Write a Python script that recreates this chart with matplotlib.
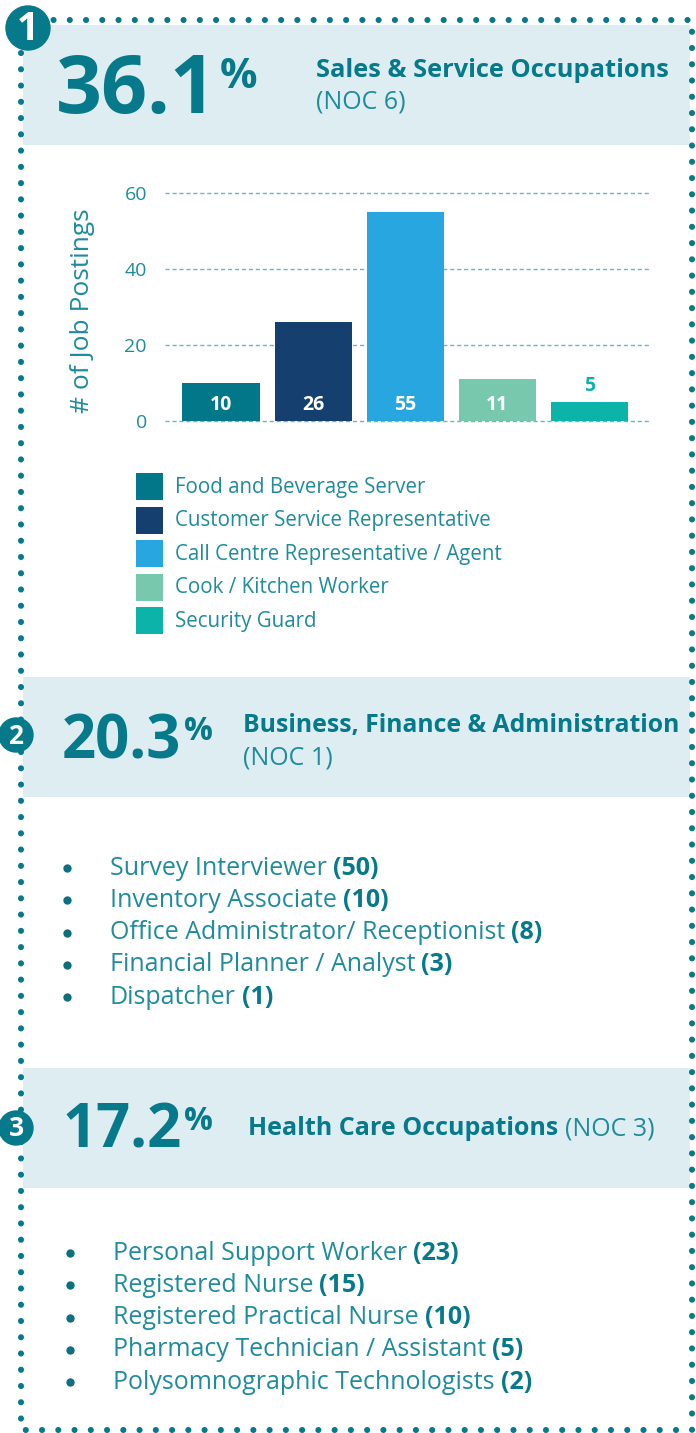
import matplotlib
matplotlib.use("Agg")
import matplotlib.pyplot as plt
from matplotlib.patches import Rectangle, Circle

plt.rcParams['font.family'] = ['Open Sans', 'DejaVu Sans']

# ---- data ----
jobs = ['Food and Beverage Server', 'Customer Service Representative',
        'Call Centre Representative / Agent', 'Cook / Kitchen Worker',
        'Security Guard']
postings = [10, 26, 55, 11, 5]
bar_colors = ['#03778a', '#143f6e', '#27a6df', '#78c8ad', '#0cb3a9']
y_ticks = [0, 20, 40, 60]

sections = ['1', '2', '3']
shares = ['36.1', '20.3', '17.2']
groups = ['Sales & Service Occupations', 'Business, Finance & Administration',
          'Health Care Occupations']
noc = ['(NOC 6)', '(NOC 1)', '(NOC 3)']

bfa_jobs = ['Survey Interviewer', 'Inventory Associate',
            'Office Administrator/ Receptionist', 'Financial Planner / Analyst',
            'Dispatcher']
bfa_counts = [50, 10, 8, 3, 1]
health_jobs = ['Personal Support Worker', 'Registered Nurse',
               'Registered Practical Nurse', 'Pharmacy Technician / Assistant',
               'Polysomnographic Technologists']
health_counts = [23, 15, 10, 5, 2]

# ---- colours ----
TEAL = '#06798a'
TEXT = '#1f8b9b'
BAND = '#ddedf1'

W, H = 696, 1433
fig = plt.figure(figsize=(W / 100, H / 100), dpi=100)
fig.patch.set_facecolor('white')
renderer = fig.canvas.get_renderer()

# overlay axes in pixel coordinates (y down)
bg = fig.add_axes([0, 0, 1, 1])
bg.set_xlim(0, W)
bg.set_ylim(H, 0)
bg.axis('off')


def width_px(t):
    return t.get_window_extent(renderer).width


# header bands
for top in [25, 677, 1068]:
    bg.add_patch(Rectangle((23, top), 667, 120, color=BAND, lw=0, zorder=1))

# dotted frame
bg.plot([21, 692, 692, 21, 21], [20, 20, 1430, 1430, 20], color=TEAL,
        lw=4.4, linestyle=(0, (0.01, 2.65)), dash_capstyle='round', zorder=2)

# number badges
badges = [(28, 28, 22, 28), (16, 735, 17, 19), (16, 1128, 17, 19)]
for (cx, cy, r, fs), s in zip(badges, sections):
    bg.add_patch(Circle((cx, cy), r, color=TEAL, zorder=3))
    bg.text(cx, cy + 1, s, color='white', fontsize=fs, fontweight='bold',
            ha='center', va='center', zorder=4)

# big percentages
pct_pos = [(56, 113, 58, 30, 25), (62, 758, 43, 23, 18), (62, 1148, 43, 23, 18)]
for (x, y, fs, pfs, rise), val in zip(pct_pos, shares):
    t = bg.text(x, y, val, color=TEAL, fontsize=fs, fontweight='bold', va='baseline')
    bg.text(x + width_px(t) + 3, y - rise, '%', color=TEAL, fontsize=pfs,
            fontweight='bold', va='baseline')

# group titles
bg.text(316, 77, groups[0], color=TEAL, fontsize=18.3, fontweight='bold', va='baseline')
bg.text(316, 108, noc[0], color=TEXT, fontsize=18, va='baseline')
bg.text(243, 732, groups[1], color=TEAL, fontsize=17.8, fontweight='bold', va='baseline')
bg.text(243, 764, noc[1], color=TEXT, fontsize=18, va='baseline')
t = bg.text(248, 1135, groups[2], color=TEAL, fontsize=18, fontweight='bold',
            va='baseline')
bg.text(248 + width_px(t) + 7, 1135, noc[2], color=TEXT, fontsize=18, va='baseline')

# ---- bar chart ----
x0, x1, y0, y60 = 165, 650, 421, 193
ax = fig.add_axes([x0 / W, 1 - y0 / H, (x1 - x0) / W, (y0 - y60) / H])
ax.set_facecolor('none')
xs = list(range(len(postings)))
ax.bar(xs, postings, width=0.84, color=bar_colors, zorder=1)
ax.set_xlim(-0.61, 4.66)
ax.set_ylim(0, 60)
for v in y_ticks:
    ax.axhline(v, color='#6fb4c2', lw=1, ls=(0, (3, 2)), clip_on=False, zorder=0)
ax.set_yticks(y_ticks)
ax.set_xticks([])
ax.tick_params(axis='y', length=0, pad=13, labelsize=14, labelcolor=TEXT)
for sp in ax.spines.values():
    sp.set_visible(False)
ax.set_ylabel('# of Job Postings', fontsize=19, color=TEXT)
ax.yaxis.set_label_coords(-0.145, 0.485)
for x, v, c in zip(xs, postings, bar_colors):
    if v >= 8:
        ax.text(x, 4.2, str(v), color='white', fontsize=14, fontweight='bold',
                ha='center', va='center')
    else:
        ax.text(x, v + 4.3, str(v), color=c, fontsize=14, fontweight='bold',
                ha='center', va='center')

# legend
for i, (name, c) in enumerate(zip(jobs, bar_colors)):
    top = 473 + 33.6 * i
    bg.add_patch(Rectangle((136, top), 27, 27, color=c, lw=0, zorder=3))
    bg.text(175, top + 14, name, color=TEXT, fontsize=14.8, va='center')


# ---- bullet lists ----
def bullet_list(names, counts, bx, tx, ytop):
    for i, (name, n) in enumerate(zip(names, counts)):
        y = ytop + 32.3 * i
        bg.plot(bx, y, 'o', color='#0d6f80', ms=6, mew=0)
        t = bg.text(tx, y, name, color=TEXT, fontsize=18, va='center')
        bg.text(tx + width_px(t) + 6, y, '(%d)' % n, color=TEAL, fontsize=18,
                fontweight='bold', va='center')


bullet_list(bfa_jobs, bfa_counts, 67, 110, 868)
bullet_list(health_jobs, health_counts, 70, 113, 1253)

fig.savefig('out.png', dpi=100)
